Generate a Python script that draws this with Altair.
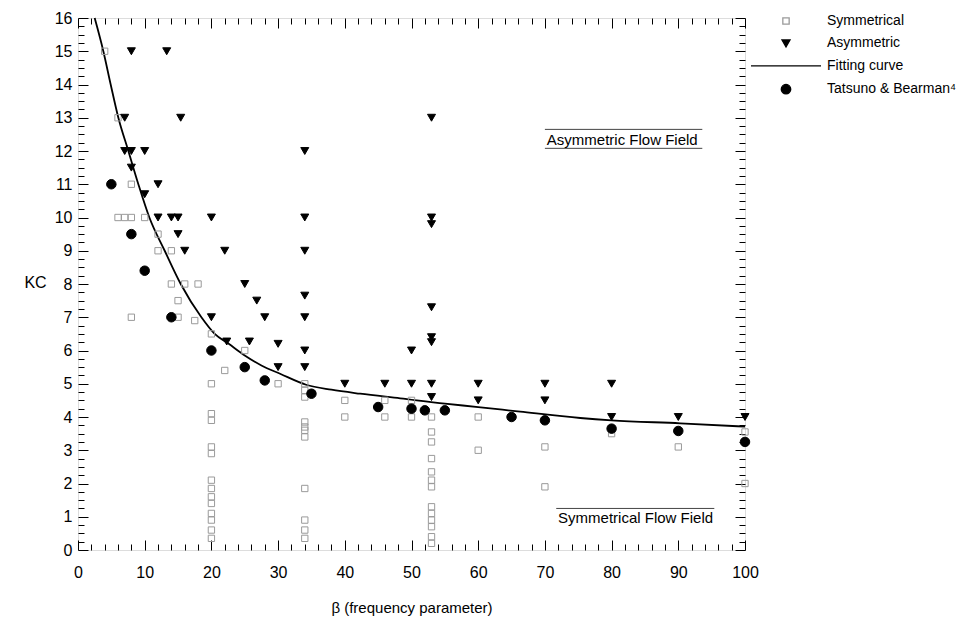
import altair as alt
import pandas as pd

# ---------------- data ----------------
sym_x = [4, 6, 8, 6, 7, 8, 10, 12, 12, 14, 14, 16, 18, 15, 8, 15, 17.5, 20, 25, 22,
         20, 30, 34, 34, 34, 20, 20, 20, 20, 20, 20, 20, 20, 20, 20, 20, 20,
         34, 34, 34, 34, 34, 34, 34, 34, 40, 40, 46, 46, 50, 50,
         53, 53, 53, 53, 53, 53, 53, 53, 53, 53, 53, 53, 53,
         60, 60, 70, 70, 80, 90, 100, 100]
sym_y = [15, 13, 11, 10, 10, 10, 10, 9.5, 9, 9, 8, 8, 8, 7.5, 7, 7, 6.9, 6.5, 6, 5.4,
         5, 5, 5, 4.8, 4.6, 4.1, 3.9, 3.1, 2.9, 2.1, 1.85, 1.6, 1.4, 1.1, 0.9, 0.6, 0.35,
         3.85, 3.7, 3.6, 3.4, 1.85, 0.9, 0.6, 0.35, 4.5, 4, 4.5, 4, 4.5, 4,
         4, 3.55, 3.25, 2.75, 2.35, 2.1, 1.9, 1.3, 1.1, 0.9, 0.7, 0.4, 0.2,
         4, 3, 3.1, 1.9, 3.5, 3.1, 3.55, 2]

asym_x = [8, 13.3, 7, 15.4, 7, 8, 10, 8, 12, 10, 12, 14, 15, 20, 15, 16, 22, 25, 26.8,
          20, 28, 22.3, 25.7, 30, 30, 34, 34, 34, 34, 34, 34, 34, 40, 46, 50, 50,
          53, 53, 53, 53, 53, 53, 53, 53, 60, 60, 70, 70, 80, 80, 90, 100]
asym_y = [15, 15, 13, 13, 12, 12, 12, 11.5, 11, 10.7, 10, 10, 10, 10, 9.5, 9, 9, 8, 7.5,
          7, 7, 6.27, 6.27, 6.2, 5.5, 12, 10, 9, 7.65, 7, 6, 5.5, 5, 5, 6, 5,
          13, 10, 9.8, 7.3, 6.4, 6.25, 5, 4.6, 5, 4.5, 5, 4.5, 5, 4, 4, 4]

tb_x = [5, 8, 10, 14, 20, 25, 28, 35, 45, 50, 52, 55, 65, 70, 80, 90, 100]
tb_y = [11, 9.5, 8.4, 7, 6, 5.5, 5.1, 4.7, 4.3, 4.25, 4.2, 4.2, 4.0, 3.9, 3.65, 3.58, 3.25]

fit_x = [2.5, 3.8, 4.9, 6.05, 7.55, 9.05, 10.7, 13.0, 15.4, 18.5, 20.5, 22.6, 25, 27.5,
         30.3, 34.2, 38, 42.3, 48.3, 55, 60, 66.3, 75.3, 80, 90.3, 100]
fit_y = [16, 15, 14, 13, 12, 11, 10, 9, 8, 7, 6.5, 6.2, 5.85, 5.55,
         5.3, 4.97, 4.82, 4.7, 4.56, 4.4, 4.3, 4.16, 3.97, 3.9, 3.81, 3.71]

series_names = ["Symmetrical", "Asymmetric", "Fitting curve", "Tatsuno & Bearman\u2074"]

ann_labels = ["Asymmetric Flow Field", "Symmetrical Flow Field"]
ann_x = [81.6, 83.6]
ann_y = [12.18, 0.8]

line_x = [70.0, 70.0, 71.7]
line_x2 = [93.6, 93.6, 95.4]
line_y = [12.65, 12.08, 1.25]

x_major = list(range(0, 101, 10))
x_ticks = list(range(0, 101, 2))
y_major = list(range(0, 17))
y_ticks = [i * 0.25 for i in range(0, 65)]

# ---------------- tables ----------------
points = pd.DataFrame({
    "beta": sym_x + asym_x + tb_x,
    "kc": sym_y + asym_y + tb_y,
    "series": [series_names[0]] * len(sym_x) + [series_names[1]] * len(asym_x)
              + [series_names[3]] * len(tb_x),
})
curve = pd.DataFrame({"beta": fit_x, "kc": fit_y})
ann = pd.DataFrame({"label": ann_labels, "x": ann_x, "y": ann_y})
lines = pd.DataFrame({"x": line_x, "x2": line_x2, "y": line_y})

W, H = 667, 532
FONT = "Liberation Sans"
xs = alt.Scale(domain=[0, 100], nice=False, zero=False)
ys = alt.Scale(domain=[0, 16], nice=False, zero=False)


def tick_axis(orient, offset, values, test):
    return alt.Axis(orient=orient, offset=offset, values=values, labels=False,
                    domain=False, grid=False, title=None, ticks=True,
                    tickColor="black", tickWidth=1,
                    tickSize={"condition": {"test": test, "value": 10}, "value": 6})


x_label_axis = alt.Axis(orient="bottom", values=x_major, ticks=False, tickSize=0,
                        domain=False, grid=False, format="d", labelFont=FONT,
                        labelFontSize=16, labelColor="black", labelPadding=14,
                        labelFlush=False, labelOverlap=False,
                        title="\u03b2 (frequency parameter)", titleFont=FONT,
                        titleFontSize=15, titleFontWeight="normal", titleColor="black",
                        titleY=57, titleBaseline="middle")
y_label_axis = alt.Axis(orient="left", values=y_major, ticks=False, tickSize=0,
                        domain=False, grid=False, format="d", labelFont=FONT,
                        labelFontSize=16, labelColor="black", labelPadding=6,
                        labelFlush=False, labelOverlap=False,
                        title="KC", titleFont=FONT, titleFontSize=16,
                        titleFontWeight="normal", titleColor="black", titleAngle=0,
                        titleX=-43, titleY=264, titleAlign="center",
                        titleBaseline="middle")

legend = alt.Legend(title=None, orient="none", legendX=701, legendY=-4,
                    labelFont=FONT, labelFontSize=14, labelColor="black",
                    labelOffset=34, rowPadding=8.4, symbolStrokeWidth=1.3,
                    symbolOpacity=1, padding=0, labelLimit=300)

curve_layer = alt.Chart(curve).mark_line(color="black", strokeWidth=1.8,
                                         interpolate="monotone").encode(
    x=alt.X("beta:Q", scale=xs, axis=tick_axis("bottom", -H, x_ticks, "datum.value % 10 === 0")),
    y=alt.Y("kc:Q", scale=ys, axis=tick_axis("left", -W, y_ticks, "datum.value % 1 === 0")),
)

point_layer = alt.Chart(points).mark_point(filled=False, strokeWidth=1, opacity=1).encode(
    x=alt.X("beta:Q", scale=xs, axis=x_label_axis),
    y=alt.Y("kc:Q", scale=ys, axis=y_label_axis),
    shape=alt.Shape("series:N", scale=alt.Scale(domain=series_names,
                    range=["square", "triangle-down", "M-7,0L7,0", "circle"]), legend=legend),
    fill=alt.Fill("series:N", scale=alt.Scale(domain=series_names,
                  range=["transparent", "black", "transparent", "black"]), legend=legend),
    stroke=alt.Stroke("series:N", scale=alt.Scale(domain=series_names,
                      range=["#9a9a9a", "black", "black", "black"]), legend=legend),
    size=alt.Size("series:N", scale=alt.Scale(type="ordinal", domain=series_names,
                  range=[40, 64, 100, 90]), legend=legend),
)

text_layer = alt.Chart(ann).mark_text(font=FONT, fontSize=15, align="center",
                                      baseline="alphabetic", color="black").encode(
    x=alt.X("x:Q", scale=xs, axis=tick_axis("top", -H, x_ticks, "datum.value % 10 === 0")),
    y=alt.Y("y:Q", scale=ys, axis=tick_axis("right", -W, y_ticks, "datum.value % 1 === 0")),
    text="label:N",
)

rule_layer = alt.Chart(lines).mark_rule(color="#444444", strokeWidth=1).encode(
    x=alt.X("x:Q", scale=xs, axis=None),
    x2="x2:Q",
    y=alt.Y("y:Q", scale=ys, axis=None),
)

chart = alt.layer(curve_layer, point_layer, rule_layer, text_layer).resolve_axis(
    x="independent", y="independent"
).properties(
    width=W, height=H,
    autosize=alt.AutoSizeParams(type="none"),
    padding={"left": 78, "top": 18, "right": 969 - 78 - W, "bottom": 618 - 18 - H},
    background="white",
).configure_view(stroke="black", strokeWidth=1.5).configure(font=FONT)

chart.save("out.html", embed_options={"renderer": "svg", "actions": False})
